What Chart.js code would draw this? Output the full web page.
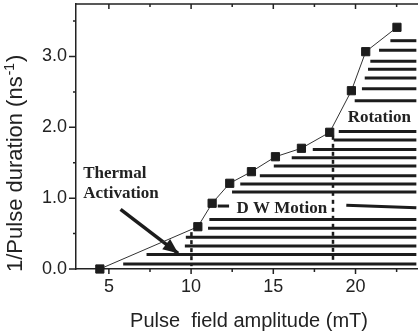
<!DOCTYPE html>
<html lang="en">
<head>
<meta charset="UTF-8">
<title>Pulse field switching diagram</title>
<script src="https://cdn.jsdelivr.net/npm/chart.js"></script>
<style>
  body { margin: 0; background: #fff; }
  #wrap { width: 418px; height: 333px; }
</style>
</head>
<body>
<div id="wrap"><canvas id="grafico" width="418" height="333"></canvas></div>
<script>
// boundary points (squares): field in mT, 1/duration in ns^-1
const boundaryField = [4.45, 10.41, 11.28, 12.35, 13.67, 15.13, 16.71, 18.43, 19.75, 20.62, 22.52];
const boundaryRate  = [0.0, 0.597, 0.928, 1.21, 1.374, 1.585, 1.704, 1.930, 2.517, 3.068, 3.412];

// thick horizontal bars: level and field where each bar starts
const barRate  = [3.223, 3.088, 2.932, 2.819, 2.697, 2.546, 2.376, 1.941, 1.821, 1.687, 1.571,
                  1.454, 1.317, 1.200, 1.087, 0.699, 0.575, 0.448, 0.325, 0.205, 0.071];
const barStart = [22.12, 21.43, 20.90, 20.76, 20.56, 20.39, 19.95, 18.98, 18.67, 17.40, 16.12,
                  15.03, 14.18, 12.99, 12.49, 11.11, 11.03, 9.68, 9.62, 7.29, 5.87];
const barEnd = 23.7;

// the bar under "D W Motion" is split by the label
const splitBarField = [11.62, 12.31, 19.44, 23.7];
const splitBarRate  = [0.889, 0.889, 0.900, 0.866];

// dashed vertical separators
const sepField  = [10.02, 18.63];
const sepTop    = [0.52, 1.88];
const sepBottom = [0.04, 0.12];

// arrow pointing at the thermal activation region
const arrowFrom = [5.71, 0.843];
const arrowTo   = [9.21, 0.222];

const xTicks = [5, 10, 15, 20];
const xMinor = [7.5, 12.5, 17.5, 22.5];
const yTicks = [0, 1, 2, 3];
const yMinor = [0.5, 1.5, 2.5, 3.5];

const notes = [
  { text: 'Thermal', x: 3.44, y: 1.28 },
  { text: 'Activation', x: 3.44, y: 0.998 },
  { text: 'D W Motion', x: 12.76, y: 0.786 },
  { text: 'Rotation', x: 19.52, y: 2.08 }
];

const ink = '#1c1c1c';

const datasets = [];
datasets.push({
  data: boundaryField.map((f, i) => ({ x: f, y: boundaryRate[i] })),
  showLine: true, borderColor: '#333', borderWidth: 1,
  pointStyle: 'rect', pointRadius: 5.8, pointBorderWidth: 1,
  pointBackgroundColor: ink, pointBorderColor: ink, clip: false
});
barRate.forEach((r, i) => {
  datasets.push({
    data: [{ x: barStart[i], y: r }, { x: barEnd, y: r }],
    showLine: true, borderColor: ink, borderWidth: 3, pointRadius: 0
  });
});
datasets.push({
  data: splitBarField.slice(0, 2).map((f, i) => ({ x: f, y: splitBarRate[i] })),
  showLine: true, borderColor: ink, borderWidth: 3, pointRadius: 0
});
datasets.push({
  data: splitBarField.slice(2).map((f, i) => ({ x: f, y: splitBarRate[i + 2] })),
  showLine: true, borderColor: ink, borderWidth: 3, pointRadius: 0
});
sepField.forEach((f, i) => {
  datasets.push({
    data: [{ x: f, y: sepTop[i] }, { x: f, y: sepBottom[i] }],
    showLine: true, borderColor: ink, borderWidth: 2.5, borderDash: [4, 4], pointRadius: 0
  });
});
datasets.push({
  data: [{ x: arrowFrom[0], y: arrowFrom[1] }, { x: arrowTo[0], y: arrowTo[1] }],
  showLine: true, borderColor: ink, borderWidth: 3.5, pointRadius: 0
});

// ticks, top frame, arrow head, labels and axis titles
const decor = {
  id: 'decor',
  afterDatasetsDraw(chart) {
    const { ctx, chartArea: a, scales: { x, y } } = chart;
    ctx.save();
    ctx.strokeStyle = '#222';
    ctx.lineWidth = 1.5;
    ctx.beginPath();
    ctx.moveTo(a.left, a.top); ctx.lineTo(a.right, a.top);
    xTicks.forEach(v => {
      const p = x.getPixelForValue(v);
      ctx.moveTo(p, a.bottom); ctx.lineTo(p, a.bottom + 5);
      ctx.moveTo(p, a.top); ctx.lineTo(p, a.top + 5);
    });
    xMinor.forEach(v => {
      const p = x.getPixelForValue(v);
      ctx.moveTo(p, a.bottom); ctx.lineTo(p, a.bottom + 3);
      ctx.moveTo(p, a.top); ctx.lineTo(p, a.top + 3);
    });
    yTicks.forEach(v => {
      const p = y.getPixelForValue(v);
      ctx.moveTo(a.left, p); ctx.lineTo(a.left - 7, p);
    });
    yMinor.forEach(v => {
      const p = y.getPixelForValue(v);
      ctx.moveTo(a.left, p); ctx.lineTo(a.left - 3, p);
    });
    ctx.stroke();

    // arrow head
    const x0 = x.getPixelForValue(arrowFrom[0]), y0 = y.getPixelForValue(arrowFrom[1]);
    const x1 = x.getPixelForValue(arrowTo[0]), y1 = y.getPixelForValue(arrowTo[1]);
    const ang = Math.atan2(y1 - y0, x1 - x0);
    ctx.fillStyle = ink;
    ctx.translate(x1, y1);
    ctx.rotate(ang);
    ctx.beginPath();
    ctx.moveTo(0, 0); ctx.lineTo(-15, -6.5); ctx.lineTo(-15, 6.5); ctx.closePath();
    ctx.fill();
    ctx.setTransform(1, 0, 0, 1, 0, 0);

    ctx.fillStyle = '#222';
    ctx.font = 'bold 17px "Liberation Serif", "Times New Roman", serif';
    ctx.textAlign = 'left';
    ctx.textBaseline = 'alphabetic';
    notes.forEach(n => ctx.fillText(n.text, x.getPixelForValue(n.x), y.getPixelForValue(n.y)));

    // x title
    ctx.font = '20px "Liberation Sans", Arial, sans-serif';
    ctx.textAlign = 'center';
    ctx.fillText('Pulse  field amplitude (mT)', (a.left + a.right) / 2 + 2, a.bottom + 58);

    // y title with superscript
    ctx.translate(22, 272);
    ctx.rotate(-Math.PI / 2);
    ctx.textAlign = 'left';
    const main = '1/Pulse duration (ns';
    ctx.font = '22px "Liberation Sans", Arial, sans-serif';
    ctx.fillText(main, 0, 0);
    let w = ctx.measureText(main).width;
    ctx.font = '14px "Liberation Sans", Arial, sans-serif';
    ctx.fillText('-1', w + 1, -8);
    w += ctx.measureText('-1').width + 2;
    ctx.font = '22px "Liberation Sans", Arial, sans-serif';
    ctx.fillText(')', w, 0);
    ctx.restore();
  }
};

new Chart(document.getElementById('grafico'), {
  type: 'scatter',
  data: { datasets },
  options: {
    responsive: false,
    animation: false,
    layout: { autoPadding: false, padding: { top: 4, right: 0, left: 0, bottom: 0 } },
    plugins: { legend: { display: false }, tooltip: { enabled: false } },
    scales: {
      x: {
        type: 'linear', min: 3, max: 23.8,
        afterBuildTicks: s => { s.ticks = xTicks.map(v => ({ value: v })); },
        afterFit: s => { s.height = 64; s.paddingLeft = 0; s.paddingRight = 0; },
        grid: { display: false, drawTicks: false },
        border: { display: true, color: '#222', width: 1.5 },
        ticks: { padding: 7, color: '#222', font: { family: '"Liberation Sans", Arial, sans-serif', size: 18 },
                 callback: v => String(v) }
      },
      y: {
        type: 'linear', min: 0, max: 3.741,
        afterBuildTicks: s => { s.ticks = yTicks.map(v => ({ value: v })); },
        afterFit: s => { s.width = 76; s.paddingTop = 0; s.paddingBottom = 0; },
        grid: { display: false, drawTicks: false },
        border: { display: true, color: '#222', width: 1.5 },
        ticks: { padding: 9, color: '#222', font: { family: '"Liberation Sans", Arial, sans-serif', size: 18 },
                 callback: v => v.toFixed(1) }
      }
    }
  },
  plugins: [decor]
});
</script>
</body>
</html>
